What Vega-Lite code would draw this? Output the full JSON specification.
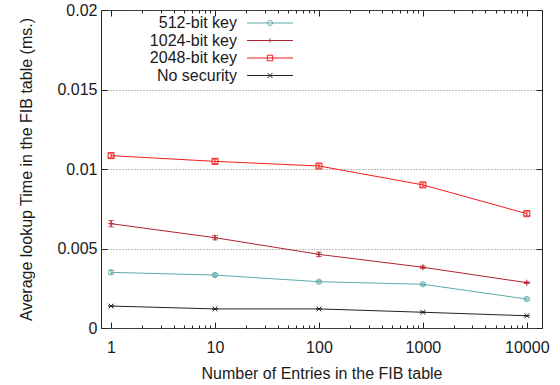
{
  "$schema": "https://vega.github.io/schema/vega-lite/v6.json",
  "autosize": {"type": "none"},
  "width": 441,
  "height": 318,
  "padding": {"left": 101, "top": 10, "right": 18, "bottom": 57},
  "background": "white",
  "config": {
    "font": "Liberation Sans",
    "view": {"stroke": "#222222", "strokeWidth": 1},
    "axis": {"labelFont": "Liberation Sans", "titleFont": "Liberation Sans", "labelFontSize": 16, "titleFontSize": 16, "labelColor": "#1a1a1a", "titleColor": "#1a1a1a", "titleFontWeight": "normal", "domain": false, "tickColor": "#222222"}
  },
  "data": {
    "values": [
      {"series": "512-bit key", "n": 1, "t": 0.0035, "err": 0.00012},
      {"series": "512-bit key", "n": 10, "t": 0.00333, "err": 0.00009},
      {"series": "512-bit key", "n": 100, "t": 0.00291, "err": 0.00007},
      {"series": "512-bit key", "n": 1000, "t": 0.00275, "err": 0.00007},
      {"series": "512-bit key", "n": 10000, "t": 0.00182, "err": 0.00007},
      {"series": "1024-bit key", "n": 1, "t": 0.00656, "err": 0.0002},
      {"series": "1024-bit key", "n": 10, "t": 0.00568, "err": 0.00013},
      {"series": "1024-bit key", "n": 100, "t": 0.00463, "err": 0.00013},
      {"series": "1024-bit key", "n": 1000, "t": 0.00382, "err": 0.00008},
      {"series": "1024-bit key", "n": 10000, "t": 0.00285, "err": 0.00005},
      {"series": "2048-bit key", "n": 1, "t": 0.01084, "err": 0.00012},
      {"series": "2048-bit key", "n": 10, "t": 0.01048, "err": 0.00013},
      {"series": "2048-bit key", "n": 100, "t": 0.01019, "err": 0.00013},
      {"series": "2048-bit key", "n": 1000, "t": 0.009, "err": 0.00013},
      {"series": "2048-bit key", "n": 10000, "t": 0.00719, "err": 0.00012},
      {"series": "No security", "n": 1, "t": 0.00138, "err": 0.00002},
      {"series": "No security", "n": 10, "t": 0.0012, "err": 0.00002},
      {"series": "No security", "n": 100, "t": 0.0012, "err": 0.00002},
      {"series": "No security", "n": 1000, "t": 0.00099, "err": 0.00002},
      {"series": "No security", "n": 10000, "t": 0.00077, "err": 0.00002}
    ]
  },
  "resolve": {"scale": {"x": "shared", "y": "shared", "color": "shared"}, "axis": {"x": "independent", "y": "independent"}, "legend": {"color": "independent", "shape": "independent"}},
  "layer": [
    {
      "mark": {"type": "line", "strokeWidth": 1},
      "encoding": {
        "x": {
          "field": "n", "type": "quantitative",
          "scale": {"type": "log", "domain": [0.8, 14000], "nice": false},
          "axis": {
            "orient": "bottom",
            "title": "Number of Entries in the FIB table",
            "values": [1,2,3,4,5,6,7,8,9,10,20,30,40,50,60,70,80,90,100,200,300,400,500,600,700,800,900,1000,2000,3000,4000,5000,6000,7000,8000,9000,10000],
            "format": "d",
            "labelExpr": "abs(log(datum.value)/LN10 - round(log(datum.value)/LN10)) < 0.000001 ? datum.label : ''",
            "tickSize": {"condition": {"test": "abs(log(datum.value)/LN10 - round(log(datum.value)/LN10)) < 0.000001", "value": -6}, "value": -3},
            "labelOverlap": false, "labelFlush": false, "labelBound": false,
            "labelPadding": 17, "titlePadding": 7, "grid": false
          }
        },
        "y": {
          "field": "t", "type": "quantitative",
          "scale": {"domain": [0, 0.02], "nice": false, "zero": true},
          "axis": {
            "orient": "left",
            "title": "Average lookup Time in the FIB table (ms.)",
            "values": [0, 0.005, 0.01, 0.015, 0.02],
            "format": "~g",
            "tickSize": -6,
            "labelPadding": 10, "labelFlush": false,
            "titlePadding": 22,
            "grid": true, "gridColor": "#777777", "gridDash": [1, 2], "gridWidth": 1, "gridOpacity": 1
          }
        },
        "color": {
          "field": "series", "type": "nominal",
          "scale": {"domain": ["512-bit key", "1024-bit key", "2048-bit key", "No security"], "range": ["#5fa9a9", "#b3232e", "#f21c1c", "#222222"]},
          "legend": {
            "orient": "none", "legendX": 161, "legendY": 5,
            "title": null, "padding": 0,
            "symbolSize": 100, "symbolStrokeWidth": 1,
            "labelAlign": "right", "labelOffset": -41,
            "labelFont": "Liberation Sans", "labelFontSize": 16, "labelColor": "#1a1a1a", "labelLimit": 0,
            "rowPadding": 1.5,
            "encode": {
              "symbols": {
                "update": {
                  "fill": {"value": "transparent"},
                  "shape": {"signal": "datum.value === '512-bit key' ? 'M-4.6,0H4.6M0.5,0A0.5,0.5 0 1,1 -0.5,0A0.5,0.5 0 1,1 0.5,0' : datum.value === '1024-bit key' ? 'M-4.6,0H4.6M0,-0.4V0.4' : datum.value === '2048-bit key' ? 'M-4.6,0H4.6M-0.55,-0.55H0.55V0.55H-0.55Z' : 'M-4.6,0H4.6M-0.5,-0.5L0.5,0.5M-0.5,0.5L0.5,-0.5'"}
                }
              }
            }
          }
        }
      }
    },
    {
      "mark": {"type": "errorbar", "ticks": {"size": 6, "thickness": 1}, "thickness": 1},
      "encoding": {
        "x": {"field": "n", "type": "quantitative", "axis": null},
        "y": {"field": "t", "type": "quantitative", "axis": null},
        "yError": {"field": "err"},
        "color": {"field": "series", "type": "nominal", "legend": null}
      }
    },
    {
      "mark": {"type": "point", "filled": false, "size": 64, "strokeWidth": 1, "opacity": 1},
      "encoding": {
        "x": {"field": "n", "type": "quantitative", "axis": null},
        "y": {"field": "t", "type": "quantitative", "axis": null},
        "color": {"field": "series", "type": "nominal", "legend": null},
        "shape": {
          "field": "series", "type": "nominal", "legend": null,
          "scale": {"domain": ["512-bit key", "1024-bit key", "2048-bit key", "No security"], "range": ["M0.65,0A0.65,0.65 0 1,1 -0.65,0A0.65,0.65 0 1,1 0.65,0", "M-0.75,0H0.75M0,-0.75V0.75", "M-0.75,-0.75H0.75V0.75H-0.75Z", "M-0.6,-0.6L0.6,0.6M-0.6,0.6L0.6,-0.6"]}
        }
      }
    },
    {
      "mark": {"type": "point", "opacity": 0},
      "encoding": {
        "x": {
          "field": "n", "type": "quantitative",
          "axis": {
            "orient": "top", "title": null, "labels": false,
            "values": [1,2,3,4,5,6,7,8,9,10,20,30,40,50,60,70,80,90,100,200,300,400,500,600,700,800,900,1000,2000,3000,4000,5000,6000,7000,8000,9000,10000],
            "tickSize": {"condition": {"test": "abs(log(datum.value)/LN10 - round(log(datum.value)/LN10)) < 0.000001", "value": -6}, "value": -3},
            "grid": false
          }
        },
        "y": {
          "field": "t", "type": "quantitative",
          "axis": {"orient": "right", "title": null, "labels": false, "values": [0, 0.005, 0.01, 0.015, 0.02], "tickSize": -6, "grid": false}
        }
      }
    }
  ]
}
